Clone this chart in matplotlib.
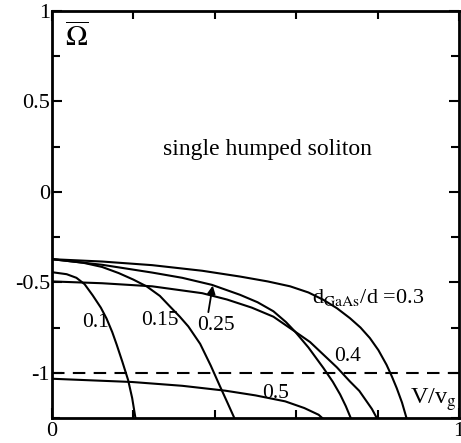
import numpy as np
import matplotlib
matplotlib.use("Agg")
import matplotlib.pyplot as plt
from matplotlib.ticker import MultipleLocator, FixedLocator

plt.rcParams['font.family'] = 'Liberation Serif'
plt.rcParams['mathtext.fontset'] = 'stix'

# curves: V/v_g vs Omega-bar, one per d_GaAs/d
x_01 = [0, 0.036, 0.06, 0.08, 0.10, 0.12, 0.134, 0.148, 0.159, 0.173, 0.187, 0.197, 0.205]
y_01 = [-0.444, -0.455, -0.475, -0.51, -0.572, -0.64, -0.7, -0.775, -0.845, -0.94, -1.04, -1.14, -1.25]

x_015 = [0, 0.077, 0.123, 0.164, 0.2, 0.233, 0.265, 0.29, 0.314, 0.335, 0.364, 0.39, 0.413, 0.432, 0.448]
y_015 = [-0.372, -0.392, -0.415, -0.449, -0.485, -0.523, -0.575, -0.634, -0.69, -0.744, -0.84, -0.96, -1.076, -1.17, -1.25]

x_025 = [0, 0.123, 0.246, 0.32, 0.393, 0.462, 0.505, 0.544, 0.575, 0.597, 0.63, 0.667, 0.69, 0.708, 0.722, 0.734]
y_025 = [-0.372, -0.403, -0.446, -0.475, -0.514, -0.569, -0.61, -0.66, -0.72, -0.772, -0.86, -0.974, -1.05, -1.12, -1.185, -1.25]

x_03 = [0, 0.123, 0.246, 0.369, 0.462, 0.53, 0.585, 0.63, 0.667, 0.7, 0.732, 0.758, 0.781, 0.802, 0.822, 0.835, 0.847, 0.86, 0.871]
y_03 = [-0.372, -0.385, -0.405, -0.436, -0.468, -0.495, -0.522, -0.556, -0.597, -0.643, -0.698, -0.75, -0.808, -0.875, -0.956, -1.02, -1.085, -1.165, -1.25]

x_04 = [0, 0.123, 0.246, 0.369, 0.43, 0.491, 0.544, 0.597, 0.634, 0.667, 0.7, 0.732, 0.755, 0.773, 0.786, 0.798]
y_04 = [-0.495, -0.505, -0.522, -0.56, -0.595, -0.64, -0.69, -0.772, -0.83, -0.9, -0.97, -1.048, -1.1, -1.158, -1.2, -1.25]

x_05 = [0, 0.197, 0.32, 0.426, 0.5, 0.573, 0.62, 0.655, 0.664]
y_05 = [-1.033, -1.051, -1.072, -1.099, -1.125, -1.158, -1.195, -1.232, -1.25]

curves = [(x_01, y_01), (x_015, y_015), (x_025, y_025), (x_03, y_03), (x_04, y_04), (x_05, y_05)]

fig = plt.figure(figsize=(4.61, 4.43), dpi=100)
ax = fig.add_axes([52/461, 1-418/443, 407/461, 407/443])

for cx, cy in curves:
    ax.plot(cx, cy, color='black', lw=1.5, solid_joinstyle='round')
ax.axhline(-1, color='black', lw=1.5, dashes=(6, 4))

ax.set_xlim(0, 1)
ax.set_ylim(-1.25, 1)

ax.xaxis.set_major_locator(FixedLocator([0, 1]))
ax.xaxis.set_minor_locator(FixedLocator([0.2, 0.4, 0.6, 0.8]))
ax.yaxis.set_major_locator(MultipleLocator(0.5))
ax.yaxis.set_minor_locator(MultipleLocator(0.25))
ax.xaxis.set_major_formatter(plt.FuncFormatter(lambda v, p: '%g' % v))
ax.yaxis.set_major_formatter(plt.FuncFormatter(lambda v, p: '%g' % v))
ax.tick_params(which='both', direction='in', top=True, right=True, width=1.5, labelsize=16)
ax.tick_params(which='major', length=7)
ax.tick_params(which='minor', length=6)
ax.tick_params(axis='y', pad=1.5)
ax.tick_params(axis='x', pad=3)
for s in ax.spines.values():
    s.set_linewidth(2)

ax.text(0.061, 0.85, r'$\overline{\Omega}$', fontsize=21, ha='center', va='center')
ax.text(0.53, 0.232, 'single humped soliton', fontsize=17, ha='center', va='center')
ax.text(0.106, -0.724, '0.1', fontsize=15.5, ha='center', va='center')
ax.text(0.265, -0.713, '0.15', fontsize=15.5, ha='center', va='center')
ax.text(0.403, -0.74, '0.25', fontsize=15.5, ha='center', va='center')
ax.annotate('', xy=(0.396, -0.503), xytext=(0.383, -0.68),
            arrowprops=dict(arrowstyle='-|>', color='black', lw=1.3, mutation_scale=12))
ax.text(0.639, -0.586, r'd$_{\rm GaAs}$/d =0.3', fontsize=16, ha='left', va='center')
ax.text(0.725, -0.91, '0.4', fontsize=15.5, ha='center', va='center')
ax.text(0.55, -1.116, '0.5', fontsize=15.5, ha='center', va='center')
ax.text(0.88, -1.15, r'V/v$_{\rm g}$', fontsize=17.5, ha='left', va='center')

fig.savefig('out.png', dpi=100)
